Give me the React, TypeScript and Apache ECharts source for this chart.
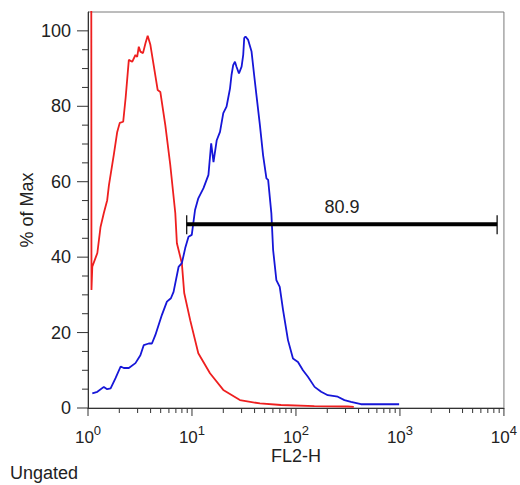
import React, { useEffect, useRef } from "react";
import * as echarts from "echarts";

// Red histogram (unstained / control)
const redX = [1.075, 1.08, 1.1, 1.23, 1.32, 1.42, 1.53, 1.59, 1.77, 1.91, 2.02, 2.18, 2.3, 2.47, 2.66, 2.86, 2.97, 3.08, 3.19, 3.38, 3.57, 3.75, 3.98, 4.28, 4.68, 4.96, 5.54, 6.18, 6.91, 7.16, 7.99, 8.42, 9.61, 11.5, 14.9, 20.0, 28.9, 45.0, 71.8, 150, 315, 360];
const redY = [120, 31.3, 37.5, 41.1, 48.0, 51.7, 55.1, 59.1, 67.1, 73.2, 75.6, 75.9, 82.2, 92.3, 91.8, 93.6, 93.1, 95.8, 94.5, 94.1, 96.7, 98.7, 96.3, 90.9, 84.3, 83.8, 75.0, 64.5, 51.7, 43.7, 38.4, 30.5, 23.3, 14.5, 9.2, 4.8, 2.1, 1.2, 0.8, 0.5, 0.4, 0.3];

// Blue histogram (stained sample)
const blueX = [1.1, 1.23, 1.42, 1.53, 1.65, 1.84, 2.06, 2.21, 2.47, 2.86, 3.19, 3.44, 3.84, 4.12, 4.44, 5.14, 5.74, 6.27, 6.65, 7.43, 7.99, 8.61, 9.26, 9.95, 10.7, 11.5, 12.9, 14.4, 15.3, 16.1, 17.3, 18.6, 20.0, 21.5, 22.3, 23.2, 24.0, 24.9, 25.9, 26.8, 28.3, 30.0, 31.1, 31.8, 32.7, 34.7, 37.4, 39.6, 41.7, 45.0, 48.3, 52.0, 54.0, 58.0, 60.3, 64.8, 69.8, 75.1, 83.8, 93.6, 104.5, 116.7, 130.3, 151, 174.6, 202.4, 252.4, 292.4, 338.1, 421.7, 982];
const blueY = [3.9, 4.3, 5.6, 5.0, 5.2, 7.9, 11.0, 10.6, 10.6, 11.9, 14.0, 16.7, 17.1, 17.1, 19.3, 24.7, 28.2, 29.1, 30.8, 37.4, 38.4, 42.4, 45.4, 45.9, 52.5, 55.6, 58.3, 61.8, 70.2, 65.2, 71.0, 73.2, 78.2, 79.9, 82.2, 84.7, 88.3, 90.9, 91.8, 90.5, 88.7, 90.5, 93.6, 98.1, 98.5, 97.6, 94.5, 88.3, 82.9, 75.0, 67.0, 60.9, 60.5, 51.6, 41.9, 33.9, 32.1, 26.0, 18.0, 13.1, 12.2, 10.0, 8.3, 5.6, 4.3, 3.4, 3.0, 2.1, 1.6, 1.0, 1.0];

// Axis ticks
const xMajorTicks = [1, 10, 100, 1000, 10000];
const xMinorTicks = [2, 3, 4, 5, 6, 7, 8, 9, 20, 30, 40, 50, 60, 70, 80, 90, 200, 300, 400, 500, 600, 700, 800, 900, 2000, 3000, 4000, 5000, 6000, 7000, 8000, 9000];
const yMajorTicks = [0, 20, 40, 60, 80, 100];
const yMinorTicks = [5, 10, 15, 25, 30, 35, 45, 50, 55, 65, 70, 75, 85, 90, 95];

// Gate
const gateFrom = 8.9;
const gateTo = 8600;
const gateLevel = 48.7;
const gateLabel = "80.9";

const FONT = "'Liberation Sans', Arial, sans-serif";
const TEXT = "#222";

export default function App() {
  const ref = useRef<HTMLDivElement>(null);
  useEffect(() => {
    document.body.style.margin = "0";
    const chart = echarts.init(ref.current!, undefined, { renderer: "svg" });

    const tickData = [
      ...xMajorTicks.map((v) => [v, 0, 0, 1]),
      ...xMinorTicks.map((v) => [v, 0, 0, 0]),
      ...yMajorTicks.map((v) => [1, v, 1, 1]),
      ...yMinorTicks.map((v) => [1, v, 1, 0]),
    ];

    chart.setOption({
      animation: false,
      backgroundColor: "#fff",
      grid: {
        left: 88,
        right: 13,
        top: 12,
        bottom: 77,
        show: true,
        borderColor: "#7a7a7a",
        borderWidth: 1,
      },
      xAxis: {
        type: "log",
        logBase: 10,
        min: 1,
        max: 10000,
        name: "FL2-H",
        nameLocation: "middle",
        nameGap: 39,
        nameMoveOverlap: false,
        nameTextStyle: { fontFamily: FONT, fontSize: 18, color: TEXT },
        axisLine: { show: true, lineStyle: { color: "#333", width: 1 } },
        axisTick: { show: false },
        splitLine: { show: false },
        minorTick: { show: false },
        axisLabel: {
          margin: 16,
          formatter: (v: number) => `{b|10}{s|${Math.round(Math.log10(v))}}`,
          rich: {
            b: { fontFamily: FONT, fontSize: 17, color: TEXT, lineHeight: 22, verticalAlign: "bottom" },
            s: { fontFamily: FONT, fontSize: 13, color: TEXT, lineHeight: 13, verticalAlign: "top" },
          },
        },
      },
      yAxis: {
        type: "value",
        min: 0,
        max: 105,
        interval: 20,
        name: "% of Max",
        nameLocation: "middle",
        nameGap: 52,
        nameMoveOverlap: false,
        nameTextStyle: { fontFamily: FONT, fontSize: 18, color: TEXT },
        axisLine: { show: true, lineStyle: { color: "#333", width: 1 } },
        axisTick: { show: false },
        splitLine: { show: false },
        axisLabel: {
          margin: 17,
          showMaxLabel: false,
          fontFamily: FONT,
          fontSize: 18,
          color: TEXT,
        },
      },
      graphic: [
        {
          type: "text",
          left: 10,
          top: 464,
          style: { text: "Ungated", font: `18px ${FONT}`, fill: TEXT },
        },
      ],
      series: [
        {
          type: "line",
          data: redX.map((x, i) => [x, redY[i]]),
          showSymbol: false,
          clip: true,
          lineStyle: { color: "#ee1f1f", width: 1.8 },
          z: 3,
        },
        {
          type: "line",
          data: blueX.map((x, i) => [x, blueY[i]]),
          showSymbol: false,
          clip: true,
          lineStyle: { color: "#1616d8", width: 1.8 },
          z: 3,
        },
        {
          type: "custom",
          silent: true,
          clip: false,
          data: tickData,
          encode: { x: 0, y: 1 },
          renderItem: (params: any, api: any) => {
            const isY = api.value(2) === 1;
            const major = api.value(3) === 1;
            const p = api.coord([api.value(0), api.value(1)]);
            if (isY) {
              const len = major ? 11 : 6;
              return {
                type: "line",
                shape: { x1: p[0] - len, y1: p[1], x2: p[0], y2: p[1] },
                style: { stroke: "#333", lineWidth: 1 },
              };
            }
            const len = major ? 8 : 5;
            return {
              type: "line",
              shape: { x1: p[0], y1: p[1], x2: p[0], y2: p[1] + len },
              style: { stroke: "#333", lineWidth: 1 },
            };
          },
          z: 4,
        },
        {
          type: "custom",
          silent: true,
          clip: false,
          data: [[gateFrom, gateTo, gateLevel]],
          encode: { x: [0, 1], y: 2 },
          renderItem: (params: any, api: any) => {
            const a = api.coord([api.value(0), api.value(2)]);
            const b = api.coord([api.value(1), api.value(2)]);
            return {
              type: "group",
              children: [
                {
                  type: "line",
                  shape: { x1: a[0], y1: a[1], x2: b[0], y2: b[1] },
                  style: { stroke: "#000", lineWidth: 4 },
                },
                {
                  type: "line",
                  shape: { x1: a[0], y1: a[1] - 9, x2: a[0], y2: a[1] + 10 },
                  style: { stroke: "#000", lineWidth: 1.2 },
                },
                {
                  type: "line",
                  shape: { x1: b[0], y1: b[1] - 9, x2: b[0], y2: b[1] + 10 },
                  style: { stroke: "#000", lineWidth: 1.2 },
                },
                {
                  type: "text",
                  x: (a[0] + b[0]) / 2,
                  y: a[1] - 17,
                  style: {
                    text: gateLabel,
                    font: `18px ${FONT}`,
                    fill: TEXT,
                    align: "center",
                    verticalAlign: "middle",
                  },
                },
              ],
            };
          },
          z: 5,
        },
      ],
    });
    return () => chart.dispose();
  }, []);
  return <div ref={ref} style={{ width: 520, height: 485 }} />;
}
